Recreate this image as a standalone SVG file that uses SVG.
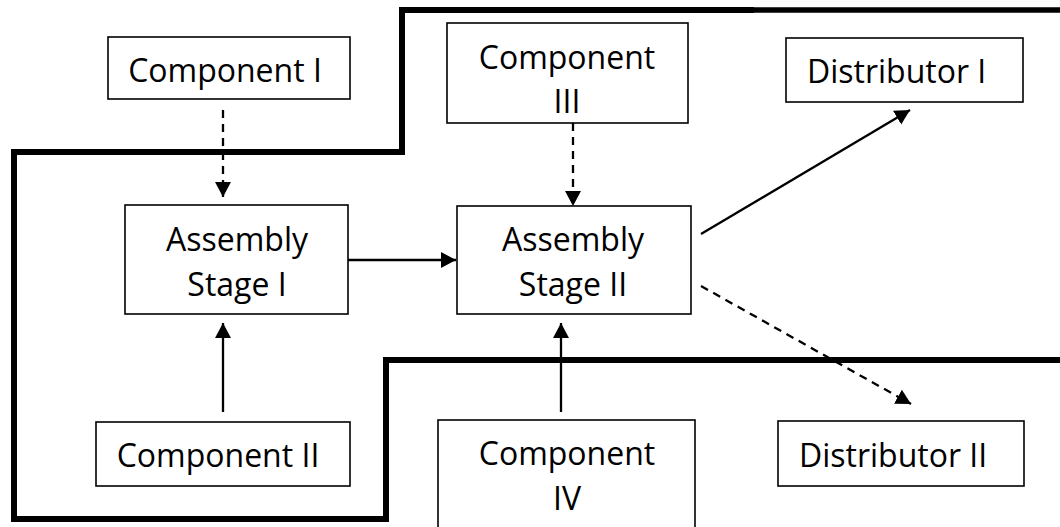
<svg xmlns="http://www.w3.org/2000/svg" width="1060" height="527" viewBox="0 0 1060 527">
<style>
.box{fill:#fff;stroke:#000;stroke-width:1.6}
.t{font-family:"Open Sans","Liberation Sans",sans-serif;font-size:32px;fill:#000}
.c{text-anchor:middle}
.ln{fill:none;stroke:#000;stroke-width:2.3}
.dash{stroke-dasharray:8 6}
.bd{fill:none;stroke:#000;stroke-linejoin:miter;stroke-linecap:square}
</style>
<defs>
<marker id="ah" markerUnits="userSpaceOnUse" markerWidth="18" markerHeight="18" refX="15" refY="8" orient="auto">
<path d="M0,0 L15,8 L0,16 Z" fill="#000"/>
</marker>
</defs>
<g id="boundary">
<path class="bd" d="M751,10 L402,10 L402,152 L14,152 L14,519 L386,519 L386,360 L1060,360" stroke-width="6"/>
<path class="bd" d="M751,10 L1060,10" stroke-width="5.5"/>
</g>
<g id="component-1"><rect class="box" x="108" y="37" width="242" height="62"/><text class="t c" x="225" y="82">Component I</text></g>
<g id="component-3"><rect class="box" x="447" y="23" width="241" height="100"/><text class="t c" x="567" y="69">Component</text><text class="t c" x="567" y="113">III</text></g>
<g id="distributor-1"><rect class="box" x="786" y="38" width="237" height="64"/><text class="t" x="807" y="83">Distributor I</text></g>
<g id="assembly-1"><rect class="box" x="125" y="205" width="223" height="109"/><text class="t c" x="237" y="251">Assembly</text><text class="t c" x="237" y="296">Stage I</text></g>
<g id="assembly-2"><rect class="box" x="457" y="206" width="234" height="108"/><text class="t c" x="573" y="251">Assembly</text><text class="t c" x="573" y="296">Stage II</text></g>
<g id="component-2"><rect class="box" x="96" y="422" width="254" height="64"/><text class="t c" x="218" y="467">Component II</text></g>
<g id="component-4"><rect class="box" x="438" y="420" width="257" height="130"/><text class="t c" x="567" y="465">Component</text><text class="t c" x="567" y="510">IV</text></g>
<g id="distributor-2"><rect class="box" x="778" y="421" width="246" height="65"/><text class="t" x="799" y="467">Distributor II</text></g>
<g id="connectors">
<line class="ln dash" x1="223" y1="110" x2="223" y2="197" marker-end="url(#ah)"/>
<line class="ln" x1="223" y1="412" x2="223" y2="323" marker-end="url(#ah)"/>
<line class="ln" x1="348" y1="260" x2="456" y2="260" marker-end="url(#ah)"/>
<line class="ln dash" x1="573" y1="123" x2="573" y2="206" marker-end="url(#ah)"/>
<line class="ln" x1="561" y1="412" x2="561" y2="323" marker-end="url(#ah)"/>
<line class="ln" x1="701" y1="234" x2="910" y2="110" marker-end="url(#ah)"/>
<line class="ln dash" x1="701" y1="286" x2="911" y2="404" marker-end="url(#ah)"/>
</g>
</svg>
